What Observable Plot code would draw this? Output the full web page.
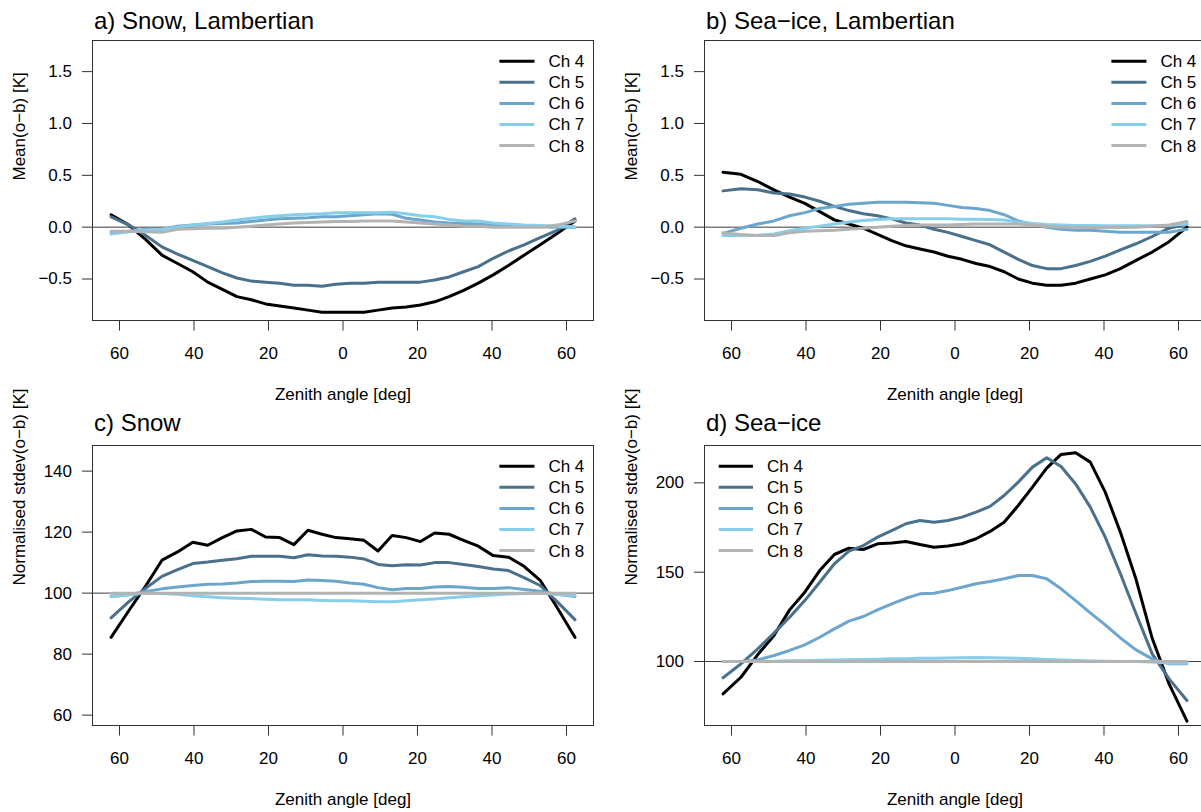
<!DOCTYPE html>
<html>
<head>
<meta charset="utf-8">
<script src="https://cdn.jsdelivr.net/npm/d3@7"></script>
<script src="https://cdn.jsdelivr.net/npm/@observablehq/plot@0.6"></script>
<style>
  html, body { margin: 0; padding: 0; background: #fff; overflow: hidden; }
  #fig { position: relative; width: 1201px; height: 812px; overflow: hidden; background: #fff; }
  #fig svg { position: absolute; }
</style>
</head>
<body>
<div id="fig"></div>
<script>
const FONT = '"Liberation Sans", Arial, Helvetica, sans-serif';

// Zenith angle of each scan position (left half signed negative)
const zenith = [-62.27, -57.47, -52.94, -48.60, -44.41, -40.33, -36.32, -32.38,
  -28.48, -24.62, -20.79, -16.98, -13.19, -9.41, -5.64, -1.88,
  1.88, 5.64, 9.41, 13.19, 16.98, 20.79, 24.62, 28.48,
  32.38, 36.32, 40.33, 44.41, 48.60, 52.94, 57.47, 62.27];

const channels = ["Ch 4", "Ch 5", "Ch 6", "Ch 7", "Ch 8"];
const channelColors = ["#000000", "#4A708B", "#6CA6CD", "#87CEEB", "#B3B3B3"];

const xTicks = [-60, -40, -20, 0, 20, 40, 60];
const meanTicks = [-0.5, 0, 0.5, 1.0, 1.5];
const snowSdTicks = [60, 80, 100, 120, 140];
const iceSdTicks = [100, 150, 200];

// a) Snow, Lambertian: mean(o-b)
const meanSnowCh4 = [0.12, 0.02, -0.12, -0.27, -0.35, -0.43, -0.53, -0.60, -0.67, -0.70, -0.74, -0.76, -0.78, -0.80, -0.82, -0.82,
  -0.82, -0.82, -0.80, -0.78, -0.77, -0.75, -0.72, -0.67, -0.61, -0.54, -0.46, -0.37, -0.27, -0.17, -0.06, 0.06];
const meanSnowCh5 = [0.10, 0.02, -0.08, -0.19, -0.26, -0.32, -0.38, -0.44, -0.49, -0.52, -0.53, -0.54, -0.56, -0.56, -0.57, -0.55,
  -0.54, -0.54, -0.53, -0.53, -0.53, -0.53, -0.51, -0.48, -0.43, -0.38, -0.30, -0.23, -0.17, -0.10, -0.03, 0.08];
const meanSnowCh6 = [-0.05, -0.04, -0.02, -0.02, 0.01, 0.02, 0.03, 0.035, 0.04, 0.055, 0.07, 0.08, 0.085, 0.09, 0.10, 0.10,
  0.11, 0.12, 0.13, 0.125, 0.085, 0.07, 0.05, 0.04, 0.035, 0.03, 0.02, 0.01, 0.01, 0.005, 0.0, 0.0];
const meanSnowCh7 = [-0.065, -0.045, -0.03, -0.02, 0.0, 0.02, 0.035, 0.05, 0.07, 0.085, 0.10, 0.11, 0.12, 0.125, 0.13, 0.14,
  0.14, 0.14, 0.14, 0.145, 0.13, 0.11, 0.10, 0.075, 0.06, 0.06, 0.04, 0.03, 0.02, 0.015, 0.01, 0.005];
const meanSnowCh8 = [-0.04, -0.04, -0.045, -0.05, -0.02, -0.015, -0.01, -0.01, 0.0, 0.01, 0.02, 0.03, 0.04, 0.045, 0.05, 0.055,
  0.055, 0.06, 0.06, 0.06, 0.05, 0.04, 0.03, 0.02, 0.01, 0.01, 0.0, 0.0, 0.0, 0.0, 0.02, 0.06];

// b) Sea-ice, Lambertian: mean(o-b)
const meanIceCh4 = [0.53, 0.51, 0.44, 0.36, 0.29, 0.23, 0.15, 0.07, 0.03, -0.01, -0.07, -0.13, -0.18, -0.21, -0.24, -0.28,
  -0.31, -0.35, -0.38, -0.43, -0.50, -0.54, -0.56, -0.56, -0.54, -0.50, -0.46, -0.40, -0.32, -0.24, -0.14, 0.0];
const meanIceCh5 = [0.35, 0.37, 0.36, 0.33, 0.32, 0.29, 0.25, 0.20, 0.16, 0.13, 0.11, 0.08, 0.04, 0.02, -0.02, -0.05,
  -0.09, -0.13, -0.17, -0.24, -0.31, -0.37, -0.40, -0.40, -0.37, -0.33, -0.28, -0.22, -0.16, -0.09, -0.01, 0.03];
const meanIceCh6 = [-0.06, -0.01, 0.03, 0.06, 0.11, 0.14, 0.18, 0.20, 0.22, 0.23, 0.24, 0.24, 0.24, 0.235, 0.23, 0.21,
  0.19, 0.18, 0.16, 0.12, 0.06, 0.03, 0.0, -0.02, -0.03, -0.03, -0.04, -0.05, -0.05, -0.05, -0.05, -0.02];
const meanIceCh7 = [-0.08, -0.08, -0.078, -0.065, -0.035, -0.01, 0.01, 0.03, 0.05, 0.065, 0.075, 0.08, 0.08, 0.08, 0.08, 0.08,
  0.077, 0.077, 0.075, 0.07, 0.05, 0.035, 0.025, 0.02, 0.015, 0.015, 0.013, 0.013, 0.013, 0.013, 0.015, 0.03];
const meanIceCh8 = [-0.055, -0.07, -0.08, -0.08, -0.055, -0.04, -0.035, -0.03, -0.02, -0.01, 0.0, 0.01, 0.015, 0.02, 0.02, 0.02,
  0.025, 0.03, 0.03, 0.03, 0.03, 0.02, 0.01, 0.0, -0.002, -0.003, -0.003, -0.003, 0.0, 0.01, 0.02, 0.055];

// c) Snow: normalised stdev(o-b)
const sdSnowCh4 = [85.5, 94.3, 102.4, 110.8, 113.5, 116.7, 115.7, 118.2, 120.4, 120.9, 118.4, 118.2, 115.9, 120.6, 119.3, 118.2,
  117.8, 117.3, 113.8, 118.9, 118.2, 116.9, 119.7, 119.3, 117.3, 115.4, 112.3, 111.8, 108.8, 104.2, 95.3, 85.5];
const sdSnowCh5 = [91.9, 97.2, 101.6, 105.5, 107.7, 109.7, 110.2, 110.8, 111.3, 112.1, 112.1, 112.1, 111.6, 112.6, 112.2, 112.1,
  111.8, 111.2, 109.4, 109.0, 109.3, 109.2, 110.0, 110.0, 109.4, 108.7, 107.9, 107.4, 105.1, 102.5, 97.2, 91.3];
const sdSnowCh6 = [98.9, 99.5, 100.5, 101.4, 102.0, 102.5, 102.9, 103.0, 103.3, 103.8, 103.9, 103.9, 103.8, 104.3, 104.1, 103.9,
  103.3, 102.9, 101.8, 101.1, 101.5, 101.5, 102.0, 102.2, 101.9, 101.5, 101.5, 101.8, 101.2, 100.6, 99.6, 98.9];
const sdSnowCh7 = [98.9, 99.5, 100.0, 99.9, 99.6, 99.1, 98.8, 98.5, 98.3, 98.2, 98.0, 97.8, 97.8, 97.8, 97.6, 97.5,
  97.5, 97.3, 97.2, 97.2, 97.5, 97.8, 98.1, 98.5, 98.8, 99.1, 99.4, 99.7, 99.9, 100.0, 99.6, 99.2];
const sdSnowCh8 = [100, 100, 100, 100, 100, 100, 100, 100, 100, 100, 100, 100, 100, 100, 100, 100,
  100, 100, 100, 100, 100, 100, 100, 100, 100, 100, 100, 100, 100, 100, 100, 100];

// d) Sea-ice: normalised stdev(o-b)
const sdIceCh4 = [81.9, 91.2, 103.9, 114.6, 128.9, 138.8, 150.9, 159.9, 163.4, 162.7, 165.9, 166.4, 167.2, 165.5, 164.0, 164.6,
  165.9, 168.7, 172.8, 178.0, 187.3, 197.6, 208.2, 215.9, 216.8, 211.6, 194.8, 172.4, 146.0, 113.0, 87.5, 66.6];
const sdIceCh5 = [90.9, 98.7, 107.1, 115.9, 124.8, 134.1, 144.4, 154.7, 161.8, 164.9, 169.6, 173.3, 177.1, 178.9, 178.0, 178.9,
  180.8, 183.6, 186.8, 192.9, 200.4, 208.8, 214.0, 209.1, 199.4, 186.4, 169.6, 149.1, 126.7, 104.3, 90.3, 78.2];
const sdIceCh6 = [100.0, 100.0, 100.9, 103.4, 106.2, 109.3, 113.6, 118.3, 122.6, 125.2, 128.9, 132.3, 135.4, 137.9, 138.2, 139.7,
  141.6, 143.5, 144.8, 146.3, 148.1, 148.1, 146.3, 140.7, 134.1, 127.2, 120.5, 113.2, 106.5, 101.5, 98.7, 98.7];
const sdIceCh7 = [100.0, 100.0, 100.0, 100.2, 100.4, 100.5, 100.7, 100.8, 101.0, 101.1, 101.3, 101.5, 101.6, 101.8, 101.9, 102.0,
  102.1, 102.2, 102.1, 102.0, 101.8, 101.5, 101.2, 100.9, 100.6, 100.3, 100.1, 100.0, 100.0, 99.8, 99.2, 99.0];
const sdIceCh8 = [100, 100, 100, 100, 100, 100, 100, 100, 100, 100, 100, 100, 100, 100, 100, 100,
  100, 100, 100, 100, 100, 100, 100, 100, 100, 100, 100, 100, 100, 100, 100, 100];

const panels = [
  {left: 0, top: 0, height: 405, title: "a) Snow, Lambertian", titleDy: -11.7,
   ylabel: "Mean(o\u2212b) [K]", yDomain: [-0.9, 1.8], yTicks: meanTicks, yFormat: d3.format(".1f"), ref: 0,
   series: [meanSnowCh4, meanSnowCh5, meanSnowCh6, meanSnowCh7, meanSnowCh8], legend: "right"},
  {left: 612, top: 0, height: 405, title: "b) Sea\u2212ice, Lambertian", titleDy: -11.7,
   ylabel: "Mean(o\u2212b) [K]", yDomain: [-0.9, 1.8], yTicks: meanTicks, yFormat: d3.format(".1f"), ref: 0,
   series: [meanIceCh4, meanIceCh5, meanIceCh6, meanIceCh7, meanIceCh8], legend: "right"},
  {left: 0, top: 405, height: 407, title: "c) Snow", titleDy: -15,
   ylabel: "Normalised stdev(o\u2212b) [K]", yDomain: [56.6, 148.4], yTicks: snowSdTicks, yFormat: d3.format("d"), ref: 100,
   series: [sdSnowCh4, sdSnowCh5, sdSnowCh6, sdSnowCh7, sdSnowCh8], legend: "right"},
  {left: 612, top: 405, height: 407, title: "d) Sea\u2212ice", titleDy: -15,
   ylabel: "Normalised stdev(o\u2212b) [K]", yDomain: [64.2, 220.9], yTicks: iceSdTicks, yFormat: d3.format("d"), ref: 100,
   series: [sdIceCh4, sdIceCh5, sdIceCh6, sdIceCh7, sdIceCh8], legend: "left"}
];

const W = 612, ML = 92, MR = 19, MT = 40, BOX_BOTTOM = 320;
const fig = document.getElementById("fig");

for (const p of panels) {
  const rows = [];
  p.series.forEach((vals, k) => vals.forEach((v, i) => rows.push({zenith: zenith[i], value: v, channel: channels[k]})));

  const chart = Plot.plot({
    width: W, height: p.height,
    marginLeft: ML, marginRight: MR, marginTop: MT, marginBottom: p.height - BOX_BOTTOM,
    style: {fontFamily: FONT, background: "transparent", color: "#000", overflow: "visible"},
    x: {domain: [-67.25, 67.25]},
    y: {domain: p.yDomain},
    color: {domain: channels, range: channelColors},
    marks: [
      Plot.ruleY([p.ref], {stroke: "#3a3a3a", strokeWidth: 1}),
      Plot.line(rows, {x: "zenith", y: "value", z: "channel", stroke: "channel", strokeWidth: 3,
        strokeLinejoin: "round", strokeLinecap: "round"}),
      Plot.frame({stroke: "#333"}),
      Plot.axisX(xTicks, {tickSize: 10.5, tickPadding: 16, tickFormat: d => String(Math.abs(d)),
        fontSize: 17, label: null, stroke: "#333"}),
      Plot.axisY(p.yTicks, {tickSize: 10, tickPadding: 10.5, tickFormat: p.yFormat,
        fontSize: 17, label: null, stroke: "#333"}),
      Plot.text([p.title], {frameAnchor: "top-left", textAnchor: "start", lineAnchor: "bottom",
        dx: 1.5, dy: p.titleDy, fontSize: 24, fill: "#000"}),
      Plot.text(["Zenith angle [deg]"], {frameAnchor: "bottom", lineAnchor: "bottom", dy: 79.3, fontSize: 17, fill: "#000"}),
      Plot.text([p.ylabel], {frameAnchor: "left", rotate: -90, dx: -73, fontSize: 17, fill: "#000"})
    ]
  });
  chart.style.left = p.left + "px";
  chart.style.top = p.top + "px";
  fig.appendChild(chart);

  // channel legend inside the plot box
  const boxRight = W - MR;
  const lg = p.legend === "right"
    ? {x1: boxRight - 93.6, x2: boxRight - 58.6, tx: boxRight - 44.6}
    : {x1: ML + 14.7, x2: ML + 49, tx: ML + 63};
  const svg = d3.select(fig).append("svg")
    .attr("width", W).attr("height", p.height)
    .style("left", p.left + "px").style("top", p.top + "px")
    .style("overflow", "visible")
    .style("font-family", FONT);
  const row = svg.selectAll("g").data(channels).join("g")
    .attr("transform", (d, k) => `translate(0,${MT + 21.2 + k * 21.1})`);
  row.append("line")
    .attr("x1", lg.x1).attr("x2", lg.x2)
    .attr("stroke", (d, k) => channelColors[k]).attr("stroke-width", 3);
  row.append("text")
    .attr("x", lg.tx).attr("dy", "0.35em")
    .attr("font-size", 17).attr("fill", "#000")
    .text(d => d);
}
</script>
</body>
</html>
